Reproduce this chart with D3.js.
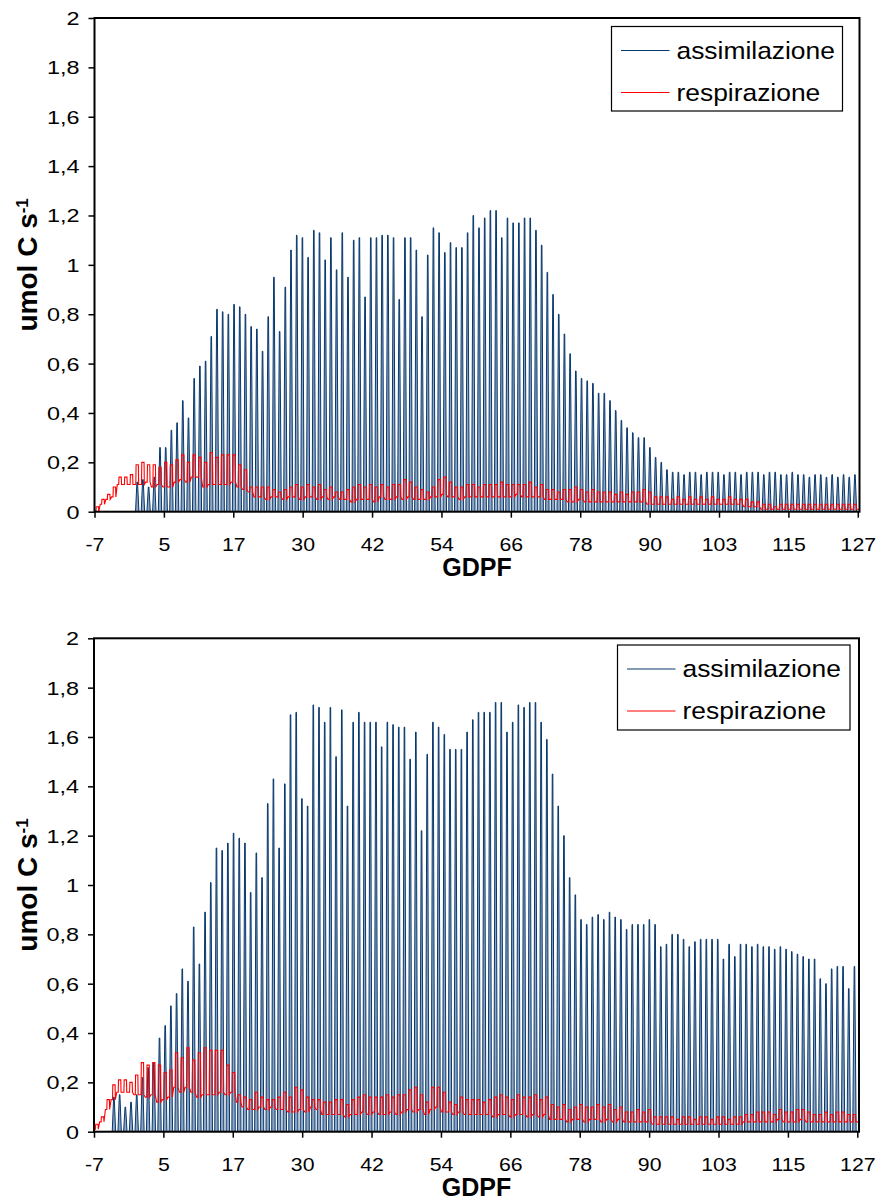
<!DOCTYPE html>
<html>
<head>
<meta charset="utf-8">
<script src="https://cdnjs.cloudflare.com/ajax/libs/d3/7.8.5/d3.min.js"></script>
<style>
body { margin: 0; background: #fff; }
svg { display: block; background: #fff; }
</style>
</head>
<body>
<svg width="878" height="1202"></svg>
<script>
// one entry per day, GDPF -7 ... 126
var days = d3.range(-7, 127);
var xTickLabels = ["-7", "5", "17", "30", "42", "54", "66", "78", "90", "103", "115", "127"];
var yTicks = [0, 0.2, 0.4, 0.6, 0.8, 1, 1.2, 1.4, 1.6, 1.8, 2];
var seriesNames = ["assimilazione", "respirazione"];

// top chart: daily peak of assimilation
var assim1 = [0, 0, 0, 0, 0, 0, 0,
  0.12, 0.13, 0.10, 0.14, 0.26, 0.26, 0.33, 0.36, 0.45, 0.38,
  0.54, 0.59, 0.61, 0.71, 0.82, 0.81, 0.80, 0.84, 0.83, 0.80,
  0.75, 0.74, 0.65, 0.79, 0.95, 0.73, 0.91, 1.06, 1.12, 1.11,
  1.03, 1.14, 1.13, 1.02, 1.11, 0.98, 1.13, 0.95, 1.10, 1.11,
  0.87, 1.11, 1.11, 1.12, 1.12, 1.11, 0.86, 1.11, 1.11, 1.06,
  0.79, 1.04, 1.15, 1.13, 1.05, 1.09, 1.07, 1.07, 1.13, 1.20,
  1.15, 1.19, 1.22, 1.22, 1.11, 1.19, 1.17, 1.17, 1.19, 1.19,
  1.14, 1.08, 0.97, 0.88, 0.80, 0.72, 0.64, 0.57, 0.54, 0.53,
  0.52, 0.48, 0.48, 0.45, 0.41, 0.37, 0.34, 0.32, 0.30, 0.30,
  0.26, 0.22, 0.20, 0.17, 0.16, 0.16, 0.15, 0.16, 0.16, 0.15,
  0.16, 0.16, 0.16, 0.15, 0.16, 0.16, 0.15, 0.16, 0.16, 0.16,
  0.15, 0.16, 0.16, 0.15, 0.15, 0.16, 0.15, 0.15, 0.14, 0.15,
  0.15, 0.14, 0.15, 0.14, 0.15, 0.14, 0.15];

// top chart: respiration, night (low) and day (high) level
var respLow1 = [0.00, 0.03, 0.05, 0.06, 0.11, 0.11, 0.11,
  0.11, 0.11, 0.12, 0.10, 0.11, 0.10, 0.10, 0.12, 0.13, 0.12,
  0.14, 0.14, 0.10, 0.11, 0.11, 0.11, 0.11, 0.12, 0.10, 0.09,
  0.08, 0.06, 0.06, 0.05, 0.06, 0.06, 0.05, 0.06, 0.06, 0.05,
  0.06, 0.06, 0.05, 0.06, 0.05, 0.06, 0.05, 0.05, 0.04, 0.05,
  0.05, 0.05, 0.04, 0.06, 0.05, 0.05, 0.06, 0.05, 0.06, 0.05,
  0.05, 0.05, 0.06, 0.06, 0.07, 0.06, 0.06, 0.05, 0.06, 0.06,
  0.06, 0.06, 0.06, 0.06, 0.06, 0.06, 0.06, 0.07, 0.06, 0.06,
  0.06, 0.06, 0.05, 0.05, 0.05, 0.05, 0.04, 0.04, 0.05, 0.04,
  0.04, 0.04, 0.04, 0.04, 0.04, 0.04, 0.04, 0.04, 0.04, 0.04,
  0.03, 0.03, 0.03, 0.03, 0.03, 0.03, 0.03, 0.03, 0.03, 0.03,
  0.03, 0.03, 0.03, 0.03, 0.03, 0.03, 0.03, 0.02, 0.02, 0.02,
  0.01, 0.01, 0.01, 0.01, 0.01, 0.01, 0.01, 0.01, 0.01, 0.01,
  0.01, 0.01, 0.01, 0.01, 0.01, 0.01, 0.01];
var respHigh1 = [0.02, 0.05, 0.07, 0.10, 0.14, 0.14, 0.15,
  0.19, 0.20, 0.19, 0.19, 0.18, 0.20, 0.19, 0.21, 0.23, 0.20,
  0.23, 0.22, 0.20, 0.24, 0.22, 0.23, 0.23, 0.23, 0.19, 0.17,
  0.10, 0.10, 0.10, 0.10, 0.09, 0.08, 0.09, 0.10, 0.11, 0.10,
  0.11, 0.10, 0.11, 0.09, 0.10, 0.08, 0.08, 0.09, 0.10, 0.11,
  0.10, 0.11, 0.10, 0.11, 0.10, 0.11, 0.11, 0.13, 0.12, 0.10,
  0.09, 0.08, 0.10, 0.13, 0.14, 0.12, 0.10, 0.10, 0.11, 0.11,
  0.10, 0.11, 0.11, 0.11, 0.12, 0.11, 0.11, 0.11, 0.11, 0.12,
  0.10, 0.11, 0.09, 0.09, 0.08, 0.09, 0.09, 0.10, 0.09, 0.08,
  0.09, 0.08, 0.08, 0.08, 0.07, 0.08, 0.07, 0.08, 0.08, 0.09,
  0.08, 0.06, 0.06, 0.06, 0.05, 0.06, 0.05, 0.06, 0.05, 0.06,
  0.05, 0.06, 0.05, 0.05, 0.06, 0.05, 0.05, 0.05, 0.04, 0.04,
  0.03, 0.03, 0.02, 0.03, 0.03, 0.03, 0.03, 0.03, 0.03, 0.03,
  0.03, 0.03, 0.03, 0.03, 0.03, 0.03, 0.03];

// bottom chart: daily peak of assimilation
var assim2 = [0, 0, 0, 0.14, 0.15, 0.10, 0.12,
  0.15, 0.22, 0.26, 0.28, 0.38, 0.43, 0.51, 0.56, 0.66, 0.61,
  0.83, 0.68, 0.89, 1.01, 1.15, 1.14, 1.17, 1.21, 1.19, 1.17,
  0.97, 1.13, 1.03, 1.33, 1.43, 1.15, 1.41, 1.69, 1.70, 1.35,
  1.32, 1.73, 1.72, 1.66, 1.72, 1.52, 1.71, 1.32, 1.66, 1.70,
  1.66, 1.66, 1.66, 1.56, 1.66, 1.65, 1.64, 1.64, 1.51, 1.62,
  1.22, 1.53, 1.66, 1.64, 1.61, 1.55, 1.55, 1.55, 1.62, 1.67,
  1.70, 1.70, 1.70, 1.74, 1.74, 1.62, 1.66, 1.73, 1.72, 1.74,
  1.74, 1.66, 1.59, 1.45, 1.32, 1.20, 1.03, 0.96, 0.86, 0.84,
  0.87, 0.88, 0.86, 0.89, 0.87, 0.86, 0.82, 0.84, 0.84, 0.84,
  0.86, 0.84, 0.75, 0.76, 0.80, 0.80, 0.78, 0.75, 0.77, 0.78,
  0.78, 0.78, 0.78, 0.70, 0.76, 0.71, 0.76, 0.76, 0.75, 0.76,
  0.75, 0.75, 0.74, 0.75, 0.74, 0.73, 0.72, 0.71, 0.70, 0.70,
  0.62, 0.60, 0.66, 0.67, 0.67, 0.58, 0.67];

// bottom chart: respiration, night (low) and day (high) level
var respLow2 = [0.01, 0.04, 0.09, 0.13, 0.16, 0.16, 0.16,
  0.15, 0.15, 0.14, 0.15, 0.12, 0.13, 0.14, 0.18, 0.16, 0.18,
  0.16, 0.14, 0.15, 0.15, 0.15, 0.16, 0.15, 0.16, 0.12, 0.10,
  0.09, 0.09, 0.10, 0.09, 0.10, 0.09, 0.09, 0.08, 0.08, 0.09,
  0.08, 0.10, 0.09, 0.07, 0.07, 0.07, 0.07, 0.06, 0.07, 0.07,
  0.08, 0.07, 0.08, 0.07, 0.07, 0.08, 0.07, 0.08, 0.09, 0.08,
  0.09, 0.07, 0.09, 0.10, 0.08, 0.08, 0.07, 0.08, 0.07, 0.07,
  0.07, 0.07, 0.07, 0.06, 0.07, 0.07, 0.06, 0.07, 0.07, 0.06,
  0.07, 0.06, 0.07, 0.05, 0.05, 0.05, 0.04, 0.05, 0.05, 0.04,
  0.05, 0.05, 0.04, 0.05, 0.04, 0.05, 0.04, 0.04, 0.04, 0.04,
  0.04, 0.03, 0.03, 0.03, 0.03, 0.03, 0.03, 0.03, 0.03, 0.03,
  0.03, 0.03, 0.03, 0.03, 0.03, 0.03, 0.03, 0.04, 0.04, 0.04,
  0.04, 0.04, 0.04, 0.05, 0.04, 0.04, 0.04, 0.05, 0.04, 0.04,
  0.04, 0.04, 0.04, 0.04, 0.04, 0.04, 0.04];
var respHigh2 = [0.03, 0.06, 0.13, 0.19, 0.21, 0.21, 0.20,
  0.23, 0.28, 0.27, 0.28, 0.27, 0.24, 0.25, 0.32, 0.30, 0.34,
  0.29, 0.32, 0.34, 0.33, 0.33, 0.33, 0.27, 0.24, 0.15, 0.14,
  0.13, 0.16, 0.14, 0.13, 0.13, 0.14, 0.16, 0.14, 0.18, 0.17,
  0.14, 0.13, 0.13, 0.12, 0.12, 0.13, 0.13, 0.11, 0.13, 0.14,
  0.15, 0.14, 0.14, 0.14, 0.15, 0.14, 0.15, 0.15, 0.17, 0.18,
  0.15, 0.12, 0.18, 0.18, 0.16, 0.12, 0.11, 0.14, 0.13, 0.13,
  0.13, 0.12, 0.13, 0.14, 0.15, 0.14, 0.13, 0.15, 0.14, 0.14,
  0.15, 0.13, 0.14, 0.11, 0.10, 0.11, 0.09, 0.10, 0.11, 0.10,
  0.10, 0.11, 0.10, 0.11, 0.09, 0.10, 0.08, 0.08, 0.09, 0.08,
  0.09, 0.06, 0.06, 0.06, 0.06, 0.05, 0.06, 0.06, 0.05, 0.06,
  0.06, 0.05, 0.06, 0.06, 0.05, 0.06, 0.06, 0.07, 0.07, 0.08,
  0.08, 0.08, 0.07, 0.09, 0.08, 0.08, 0.09, 0.09, 0.08, 0.07,
  0.07, 0.08, 0.07, 0.08, 0.08, 0.07, 0.07];

var blue = "#08386c",
    red = "#ff0000",
    font = "Arial, 'Liberation Sans', sans-serif";

var svg = d3.select("svg");

var panels = [
  {id: 1, top: 18, bottom: 511.7, left: 94.5, right: 859.5,
   assim: assim1, low: respLow1, high: respHigh1,
   legend: {x: 611.5, y: 26.5, w: 231, h: 84.5}},
  {id: 2, top: 638.3, bottom: 1131.7, left: 94, right: 859,
   assim: assim2, low: respLow2, high: respHigh2,
   legend: {x: 617.5, y: 645, w: 232.5, h: 85}}
];

// each day: zero at night, daily peak around noon
function assimPoints(vals) {
  var pts = [];
  days.forEach(function(d, i) {
    pts.push([d, 0], [d + 0.2, 0], [d + 0.45, vals[i]], [d + 0.55, vals[i]], [d + 0.8, 0]);
  });
  pts.push([127.3, 0]);
  return pts;
}

// each day: night level, then day level
function respPoints(lo, hi) {
  var pts = [];
  days.forEach(function(d, i) {
    pts.push([d, lo[i]], [d + 0.25, lo[i]], [d + 0.3, hi[i]], [d + 0.7, hi[i]], [d + 0.75, lo[i]]);
  });
  pts.push([127.3, lo[lo.length - 1]]);
  return pts;
}

function yFormat(d) {
  return String(Math.round(d * 10) / 10).replace(".", ",");
}

panels.forEach(function(p) {
  var x = d3.scaleLinear().domain([-7, 127.3]).range([p.left, p.right]),
      y = d3.scaleLinear().domain([0, 2]).range([p.bottom, p.top]);

  var xTicks = xTickLabels.map(function(t, i) { return -7 + 134 * i / 11; });

  svg.append("clipPath")
      .attr("id", "clip" + p.id)
    .append("rect")
      .attr("x", p.left)
      .attr("y", p.top)
      .attr("width", p.right - p.left)
      .attr("height", p.bottom - p.top + 1);

  var plot = svg.append("g").attr("clip-path", "url(#clip" + p.id + ")");

  var aPts = assimPoints(p.assim);

  // assimilation: light interior plus dark line
  plot.append("path")
      .datum(aPts)
      .attr("d", d3.area()
        .x(function(d) { return x(d[0]); })
        .y0(y(0))
        .y1(function(d) { return y(d[1]); }))
      .attr("fill", "#8ea5c2")
      .attr("stroke", "none");

  plot.append("path")
      .datum(aPts)
      .attr("d", d3.line()
        .x(function(d) { return x(d[0]); })
        .y(function(d) { return y(d[1]); }))
      .attr("fill", "none")
      .attr("stroke", blue)
      .attr("stroke-width", 1);

  // respiration
  plot.append("path")
      .datum(respPoints(p.low, p.high))
      .attr("d", d3.line()
        .x(function(d) { return x(d[0]); })
        .y(function(d) { return y(d[1]); }))
      .attr("fill", "none")
      .attr("stroke", red)
      .attr("stroke-width", 1.1);

  // y axis
  var gy = svg.append("g")
      .attr("transform", "translate(" + p.left + ",0)")
      .call(d3.axisLeft(y).tickValues(yTicks).tickSize(6).tickPadding(0).tickFormat(yFormat));
  gy.select(".domain").remove();
  gy.selectAll(".tick line").attr("stroke", "#000").attr("stroke-width", 1.5);
  gy.selectAll(".tick text")
      .attr("x", -11.5)
      .attr("dy", "0.36em")
      .attr("transform", "scale(1.3,1)")
      .attr("fill", "#000")
      .style("font-family", font)
      .style("font-size", "18px");

  // x axis
  var gx = svg.append("g")
      .attr("transform", "translate(0," + p.bottom + ")")
      .call(d3.axisBottom(x).tickValues(xTicks).tickSize(6)
        .tickFormat(function(d, i) { return xTickLabels[i]; }));
  gx.select(".domain").remove();
  gx.selectAll(".tick line").attr("stroke", "#000").attr("stroke-width", 1.5);
  gx.selectAll(".tick text")
      .attr("y", 0)
      .attr("dy", 0)
      .attr("transform", "translate(0,39) scale(1.12,1)")
      .attr("fill", "#000")
      .style("font-family", font)
      .style("font-size", "19px");

  // plot frame
  svg.append("rect")
      .attr("x", p.left)
      .attr("y", p.top)
      .attr("width", p.right - p.left)
      .attr("height", p.bottom - p.top)
      .attr("fill", "none")
      .attr("stroke", "#000")
      .attr("stroke-width", 2);

  // axis titles
  svg.append("text")
      .attr("x", (p.left + p.right) / 2)
      .attr("y", p.bottom + 64)
      .attr("text-anchor", "middle")
      .style("font-family", font)
      .style("font-size", "25px")
      .style("font-weight", "bold")
      .text("GDPF");

  var yt = svg.append("text")
      .attr("transform", "translate(37," + (p.top + p.bottom) / 2 + ") rotate(-90)")
      .attr("text-anchor", "middle")
      .style("font-family", font)
      .style("font-size", "28px")
      .style("font-weight", "bold");
  yt.append("tspan").text("umol C s");
  yt.append("tspan")
      .attr("dy", "-0.55em")
      .style("font-size", "17px")
      .text("-1");

  // legend
  var L = p.legend;
  var lg = svg.append("g").attr("transform", "translate(" + L.x + "," + L.y + ")");
  lg.append("rect")
      .attr("width", L.w)
      .attr("height", L.h)
      .attr("fill", "#fff")
      .attr("stroke", "#000")
      .attr("stroke-width", 1.2);
  seriesNames.forEach(function(name, i) {
    var ly = 24 + i * 42;
    lg.append("line")
        .attr("x1", 9.5)
        .attr("x2", 58)
        .attr("y1", ly)
        .attr("y2", ly)
        .attr("stroke", i === 0 ? blue : red)
        .attr("stroke-width", 1.2);
    lg.append("text")
        .attr("transform", "translate(65," + (ly + 8) + ") scale(1.1,1)")
        .style("font-family", font)
        .style("font-size", "24px")
        .text(name);
  });
});
</script>
</body>
</html>
